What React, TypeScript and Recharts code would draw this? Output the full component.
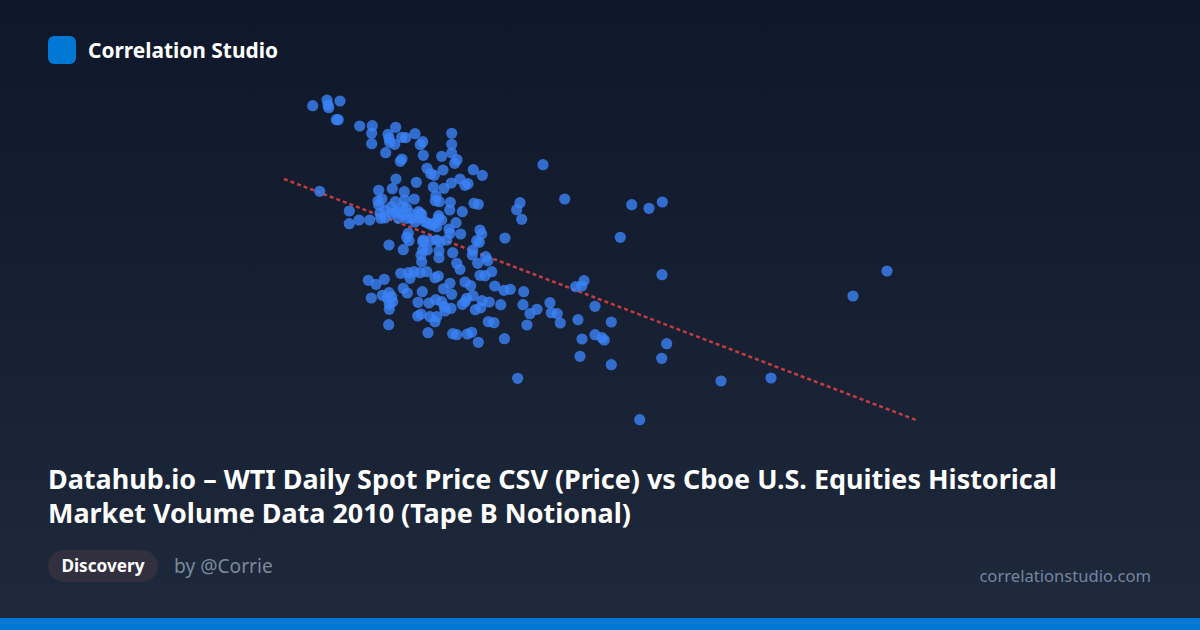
import React from "react";
import { ScatterChart, Scatter, XAxis, YAxis } from "recharts";

type P = [number, number];
const upperCluster: P[] = [
  [28.7,319.3],[43,325],[44,320],[44.7,317.3],[56,324],[52.3,305.3],[54.3,305.3],[75.7,299],[88.3,299.3],[87.7,291.7],
  [87.7,281.3],[104,290.7],[105,286.7],[105.7,282.7],[110.7,280.7],[111.7,297.7],[117.7,287.7],[121.7,287.3],[131,291.3],[138.7,283.3],
  [136.3,280.3],[101.7,272.3],[118,266],[116.3,263.7],[139.3,269.7],[167.7,291.7],[167.7,280.7],[167.7,272],[173,265.3],[170.7,261.7],
  [157.7,268.7],[143,256.7],[146.7,251.3],[150.3,249.7],[159,255],[189.3,255.3],[198.3,249.7],[176,246],[167.3,242],[184,241.3],
  [181,239.7],[149.3,238],[160,236.7],[132.3,242.7],[112,246],[108.3,236.3],[120.3,233.3],[94.7,234.7],[35.7,233.7],
];
const middleCluster: P[] = [
  [65.3,214],[130.3,226],[98,226],[94,224],[94.7,220],[107.3,218.3],[111.3,223.3],[120.7,225],[118.7,218.3],[122.7,216.7],
  [134.7,213.3],[137.7,210.7],[152,229.3],[151.3,224.3],[155.3,223.3],[166.3,222.7],[165.7,215],[178.3,213.3],[190,221.7],[194.3,220.7],
  [154.7,209.3],[65.3,201.3],[75,205],[85.7,205],[96,211.7],[96.7,206.7],[107.7,211.7],[114.3,206.7],[126,211.7],[127.7,206.7],
  [136,211.7],[144.3,201.7],[151,202.3],[157.7,205],[172,202.3],[165,196],[166,191.7],[176.7,191],[196,195],[197.7,191],
  [192.7,184.3],[195.3,182.7],[221,187],[188.7,175],[188.3,170],[193.7,161.7],[201.7,168.3],[203.7,164.3],[207.7,153.3],[196,149.7],
  [201,149.3],[210.7,139],[181,143],[186.7,139.3],[168.7,172.3],[172.7,161.7],[176,155.7],[166,141.7],[159.5,136.2],[154.3,149],
  [151,147.3],[142.7,153.3],[136,152.3],[130,153.3],[124.3,152.3],[116.7,151.7],[126,146.7],[119.3,136.7],[100.3,145.7],[92,140.7],
  [84.3,144.7],[105,180],[119.3,175.3],[124.3,191.7],[122.7,187.7],[125,184.3],[138.7,183.3],[143.3,175],[138.7,175],[137,170],
  [137.7,163.3],[146,184.3],[152.7,185],[162.7,185],[155,174.3],[155,167.3],
];
const denseCore: P[] = [
  [141,203.3],[147.7,200],[152.7,198.3],[154.3,206.7],[136,207],[131,203],[122.7,206.7],[114,213],[101,215],[101,207],
  [111,213],[119,210],[139.3,185],[156,183.3],
];
const lowerCluster: P[] = [
  [87.3,127],[98.3,129.7],[105,132.3],[107.7,128.3],[103.3,126.7],[108.7,123.3],[105.3,120.7],[105.3,115.7],[104.7,100.3],[123.3,132],
  [138.3,133.3],[134,122.7],[145,122],[151.7,125.3],[157.7,123.3],[160.3,118.3],[161,114],[167,116.7],[167.7,130.7],[189,129.3],
  [182.7,126.7],[181,123.3],[178.3,120.7],[198,124.3],[205.3,123],[196.7,117.3],[191.3,115.3],[216.7,120.3],[220,134.7],[226.3,135.7],
  [239.7,133.3],[239,120.3],[246,111.3],[243,100],[133.7,109],[137,111],[146,108.3],[152.7,108.3],[151,103.3],[144,92.3],
  [168.7,91.3],[172.7,90.3],[183.3,91],[187.7,92.7],[194.3,82.7],[204.3,103.3],[210,102.3],[220.5,86.3],
];
const outliers: P[] = [
  [259,260.3],[280.7,226],[236,222.3],[232.7,215.3],[237.7,205.7],[347.7,220.3],[365,216.7],[378.3,223],[336.3,187.7],[378,150.3],
  [300,144.3],[297.7,139],[291.7,138.3],[253,115.7],[266,122.3],[267.3,112.3],[273.3,111.3],[276.3,102],[233.7,46.7],[311,118.7],
  [294,105.3],[327.3,103],[311,90.3],[318,87.3],[320.3,85],[298,86],[296,68.7],[327.3,60.3],[382.7,81.3],[377.7,66.7],
  [355.7,5.3],[437,44],[487,47],[569,129],[603,154],
];
const trend: P[] = [[0,246],[632,5]];
const titleLines = ["Datahub.io – WTI Daily Spot Price CSV (Price) vs Cboe U.S. Equities Historical", "Market Volume Data 2010 (Tape B Notional)"];

const toRows = (list: P[]) => list.map(([x, y]) => ({ x, y }));
const points = toRows([...upperCluster, ...middleCluster, ...denseCore, ...lowerCluster, ...outliers]);
const trendRows = toRows(trend);
const font = "'Noto Sans', sans-serif";
const abs = (s: React.CSSProperties): React.CSSProperties => ({ position: "absolute", whiteSpace: "nowrap", ...s });

export default function App() {
  return (
    <div style={abs({ left: 0, top: 0, width: 1200, height: 630, overflow: "hidden", fontFamily: font, background: "linear-gradient(180deg,#0f172a 0%,#1e293b 100%)" })}>
      <div style={abs({ left: 48, top: 36, width: 28, height: 28, borderRadius: 6, background: "#0078d4" })} />
      <div style={abs({ left: 88, top: 36, height: 28, lineHeight: "28px", fontSize: 20.9, fontWeight: 700, color: "#fff" })}>Correlation Studio</div>
      <div style={abs({ left: 0, top: 0 })}>
        <ScatterChart width={1200} height={630} margin={{ left: 284, right: 284, top: 95, bottom: 205 }}>
          <XAxis type="number" dataKey="x" domain={[0, 632]} hide />
          <YAxis type="number" dataKey="y" domain={[0, 330]} hide />
          <Scatter data={trendRows} isAnimationActive={false} shape={() => <g />} line={{ stroke: "#ef4444", strokeOpacity: 0.8, strokeWidth: 2.5, strokeDasharray: "4 3" }} />
          <Scatter data={points} isAnimationActive={false} shape={(p: any) => <circle cx={p.cx} cy={p.cy} r={5.6} fill="#3b82f6" fillOpacity={0.8} />} />
        </ScatterChart>
      </div>
      {titleLines.map((line, i) => (
        <div key={i} style={abs({ left: 48, top: 462 + i * 34, height: 34, lineHeight: "34px", fontSize: 26.95, fontWeight: 700, color: "#fff" })}>{line}</div>
      ))}
      <div style={abs({ left: 48, top: 550, width: 110, height: 32, borderRadius: 16, background: "#322f3f", color: "#fff", fontSize: 17.2, fontWeight: 700, lineHeight: "32px", textAlign: "center" })}>Discovery</div>
      <div style={abs({ left: 174, top: 552, height: 28, lineHeight: "28px", fontSize: 19.2, color: "#7b899d" })}>by @Corrie</div>
      <div style={abs({ right: 49, top: 562, height: 28, lineHeight: "28px", fontSize: 16.6, color: "#7485a0" })}>correlationstudio.com</div>
      <div style={abs({ left: 0, top: 618, width: 1200, height: 12, background: "#0078d4" })} />
    </div>
  );
}
